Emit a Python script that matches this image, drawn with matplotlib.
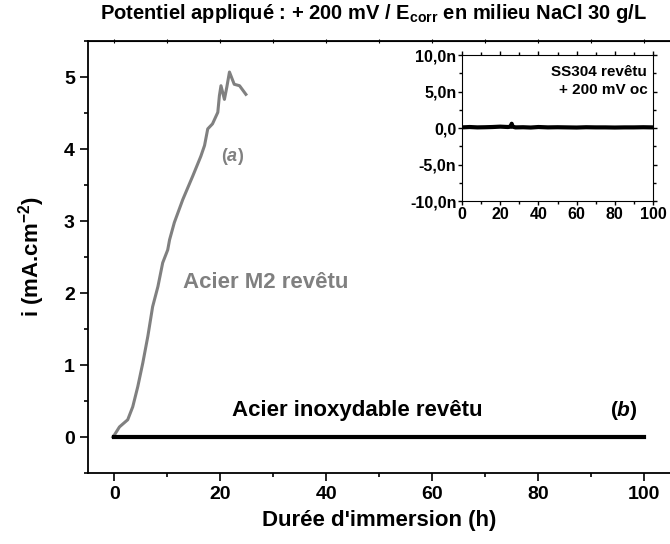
import matplotlib
matplotlib.use("Agg")
import matplotlib.pyplot as plt
from matplotlib.ticker import MultipleLocator, FuncFormatter, NullFormatter

plt.rcParams['font.family'] = ['Liberation Sans', 'DejaVu Sans']
plt.rcParams['font.weight'] = 'bold'
plt.rcParams['mathtext.fontset'] = 'custom'
plt.rcParams['mathtext.rm'] = 'Liberation Sans:bold'
plt.rcParams['mathtext.bf'] = 'Liberation Sans:bold'
plt.rcParams['mathtext.it'] = 'Liberation Sans:bold:italic'

# acier M2 revetu (a)
t_m2 = [-0.3, 0.0, 0.94, 2.5, 3.45, 4.4, 5.35, 6.3, 7.2, 8.2, 9.1, 10.05,
        10.4, 11.3, 12.9, 14.8, 16.3, 17.0, 17.6, 18.5, 19.5, 19.8, 20.1,
        20.75, 21.2, 21.7, 22.6, 23.6, 24.8]
i_m2 = [0.0, 0.03, 0.14, 0.24, 0.42, 0.70, 1.03, 1.40, 1.81, 2.09, 2.42,
        2.60, 2.74, 2.98, 3.30, 3.63, 3.90, 4.05, 4.28, 4.35, 4.51, 4.74,
        4.88, 4.69, 4.86, 5.07, 4.90, 4.88, 4.76]

# acier inoxydable revetu (b)
t_inox = [0, 100]
i_inox = [0.0, 0.0]

# encart SS304
t_ss = [0, 4, 8, 12, 16, 20, 24, 25.5, 26, 26.5, 28, 32, 36, 40, 45, 50,
        55, 60, 65, 70, 75, 80, 85, 90, 95, 100]
i_ss = [0.1e-9, 0.15e-9, 0.1e-9, 0.12e-9, 0.15e-9, 0.2e-9, 0.15e-9, 0.2e-9,
        0.6e-9, 0.2e-9, 0.1e-9, 0.12e-9, 0.08e-9, 0.15e-9, 0.1e-9, 0.12e-9,
        0.1e-9, 0.08e-9, 0.12e-9, 0.1e-9, 0.1e-9, 0.08e-9, 0.1e-9, 0.1e-9,
        0.12e-9, 0.1e-9]

fig = plt.figure(figsize=(6.7, 5.44), dpi=100)
ax = fig.add_axes([0.1313, 0.1305, 0.870, 0.794])

ax.plot(t_m2, i_m2, color='#808080', lw=2.2)
ax.plot(t_inox, i_inox, color='black', lw=3)

ax.set_xlim(-5, 105)
ax.set_ylim(-0.5, 5.5)
ax.xaxis.set_major_locator(MultipleLocator(20))
ax.xaxis.set_minor_locator(MultipleLocator(10))
ax.yaxis.set_major_locator(MultipleLocator(1))
ax.yaxis.set_minor_locator(MultipleLocator(0.5))
ax.tick_params(which='both', direction='out', labelsize=14, width=1.2)
ax.tick_params(which='major', length=6)
ax.tick_params(which='minor', length=3)
for s in ax.spines.values():
    s.set_linewidth(1.3)

top = ax.secondary_xaxis('top')
top.xaxis.set_major_locator(MultipleLocator(10))
top.xaxis.set_major_formatter(NullFormatter())
top.tick_params(direction='inout', length=3, width=0.8)

ax.set_xlabel("Durée d'immersion (h)", fontsize=16, fontweight='bold', labelpad=5)
ax.set_ylabel("i (mA.cm$^{\\mathrm{-2}}$)", fontsize=16, fontweight='bold', labelpad=12)

ax.text(22.3, 3.89, "($\\mathit{a}$)", color='#808080', fontsize=13,
        fontweight='bold', ha='center', va='center')
ax.text(13.0, 2.14, "Acier M2 revêtu", color='#808080', fontsize=16,
        fontweight='bold', ha='left', va='center')
ax.text(22.1, 0.37, "Acier inoxydable revêtu", color='black', fontsize=16,
        fontweight='bold', ha='left', va='center')
ax.text(96.2, 0.37, "($\\mathit{b}$)", color='black', fontsize=15,
        fontweight='bold', ha='center', va='center')

fig.text(0.558, 0.976,
         "Potentiel appliqué : + 200 mV / E$_{\\mathrm{corr}}$ en milieu NaCl 30 g/L",
         ha='center', va='center', fontsize=14.5, fontweight='bold')

# encart
ins = fig.add_axes([0.6896, 0.6305, 0.285, 0.268])
ins.plot(t_ss, i_ss, color='black', lw=3)
ins.set_xlim(0, 100)
ins.set_ylim(-10e-9, 10e-9)
ins.xaxis.set_major_locator(MultipleLocator(20))
ins.xaxis.set_minor_locator(MultipleLocator(10))
ins.yaxis.set_major_locator(MultipleLocator(5e-9))
ins.yaxis.set_minor_locator(MultipleLocator(2.5e-9))
ins.yaxis.set_major_formatter(FuncFormatter(
    lambda v, p: ("%.1fn" % (v * 1e9)).replace('.', ',') if abs(v) > 1e-12 else "0,0"))
ins.tick_params(which='both', direction='out', labelsize=11.5, width=1, pad=1)
ins.tick_params(which='major', length=3)
ins.tick_params(which='minor', length=2)
ins.tick_params(which='both', top=True, right=True)
ins.text(0.97, 0.93, "SS304 revêtu\n+ 200 mV oc", transform=ins.transAxes,
         ha='right', va='top', fontsize=11, fontweight='bold', linespacing=1.3)

fig.savefig("out.png", dpi=100)
